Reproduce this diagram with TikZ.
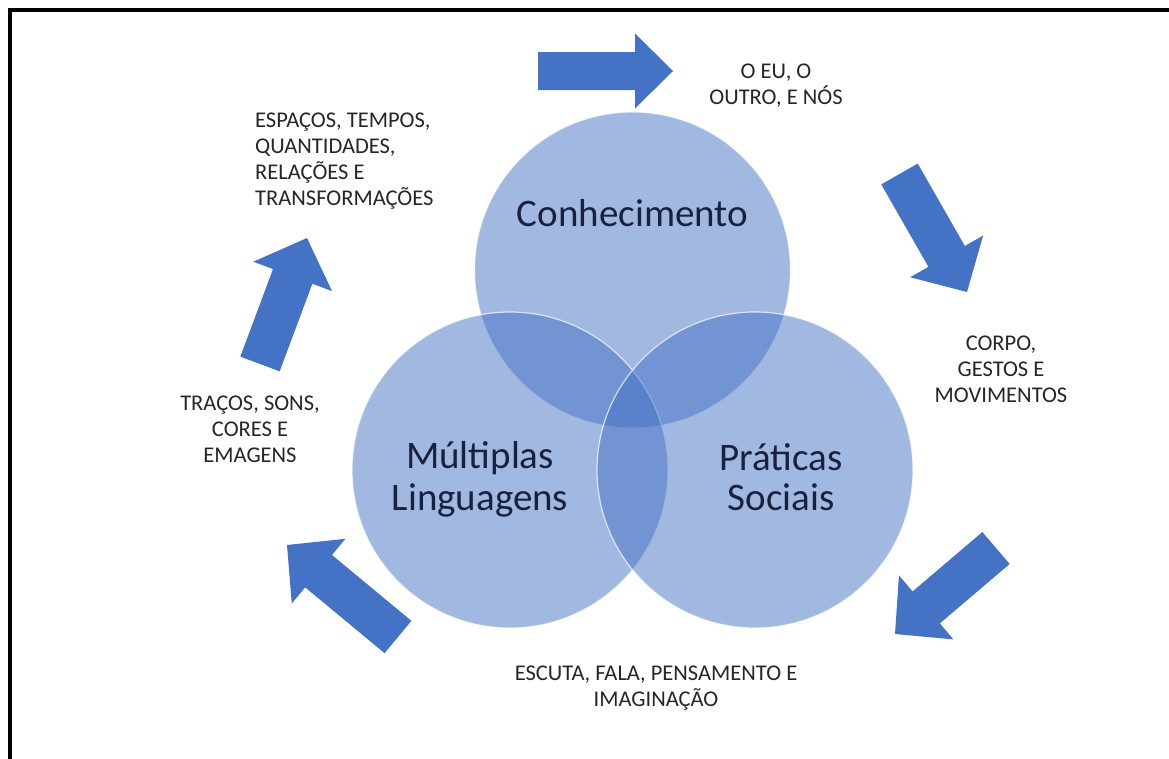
\documentclass[tikz,border=0pt]{standalone}
\usepackage{fontspec}
\setmainfont{Carlito}
\usetikzlibrary{calc}
\definecolor{arrowblue}{RGB}{68,114,196}
\definecolor{circblue}{RGB}{68,114,196}
\definecolor{titletext}{RGB}{24,34,62}
\definecolor{labeltext}{RGB}{38,38,38}
\newcommand\blockarrow[4]{% #1 name, #2 half shaft, #3 half head, #4 head length
  \coordinate (#1-b) at ($(#1-h)!#4!(#1-t)$);
  \fill[arrowblue] ($(#1-t)!#2!90:(#1-h)$) -- ($(#1-b)!#2!90:(#1-h)$) -- ($(#1-b)!#3!90:(#1-h)$) -- (#1-h) -- ($(#1-b)!#3!-90:(#1-h)$) -- ($(#1-b)!#2!-90:(#1-h)$) -- ($(#1-t)!#2!-90:(#1-h)$) -- cycle;
}
\begin{document}
\begin{tikzpicture}[x=1pt,y=-1pt,
  vcirc/.style={circle, inner sep=0pt, outer sep=0pt, minimum size=316pt, fill=circblue, fill opacity=0.5, draw=white, draw opacity=0.7, line width=1.2pt},
  ctitle/.style={text=titletext, align=center, inner sep=0pt, font=\fontsize{39}{43}\selectfont},
  lbl/.style={text=labeltext, inner sep=0pt, font=\fontsize{22.5}{26}\selectfont}]
\fill[white] (0,0) rectangle (1169,758);
\useasboundingbox (0,0) rectangle (1169,758);
\draw[line width=3.5pt] (10,760) -- (10,10) -- (1171,10);

% circles
\node[vcirc] (know) at (632.5,270) {};
\node[vcirc] (lang) at (510,470) {};
\node[vcirc] (soc) at (755,470) {};

\node[ctitle, anchor=base] (tknow) at (632.5,226) {Conhecimento};
\node[ctitle, anchor=base] (tlang1) at (480,468) {Múltiplas};
\node[ctitle, anchor=base] (tlang2) at (480,510) {Linguagens};
\node[ctitle, anchor=base] (tsoc1) at (781,470) {Práticas};
\node[ctitle, anchor=base] (tsoc2) at (781,510) {Sociais};

% labels
\node[lbl, align=center, anchor=north] (eu) at (776,63.5) {O EU, O\\OUTRO, E NÓS};
\node[lbl, align=left, anchor=north west] (esp) at (255,112.5) {ESPAÇOS, TEMPOS,\\QUANTIDADES,\\RELAÇÕES E\\TRANSFORMAÇÕES};
\node[lbl, align=center, anchor=north] (corpo) at (1001,335.5) {CORPO,\\GESTOS E\\MOVIMENTOS};
\node[lbl, align=center, anchor=north] (tracos) at (250,395.5) {TRAÇOS, SONS,\\CORES E\\EMAGENS};
\node[lbl, align=center, anchor=north] (escuta) at (656,665.5) {ESCUTA, FALA, PENSAMENTO E\\IMAGINAÇÃO};

% arrows
\coordinate (a1-t) at (538,71);  \coordinate (a1-h) at (673,71);
\coordinate (a2-t) at (899.5,174); \coordinate (a2-h) at (967,292);
\coordinate (a3-t) at (996,548); \coordinate (a3-h) at (895,634);
\coordinate (a4-t) at (398,637); \coordinate (a4-h) at (287,545);
\coordinate (a5-t) at (260,364); \coordinate (a5-h) at (307,238);
\blockarrow{a1}{19pt}{37.5pt}{38pt}
\blockarrow{a2}{21pt}{42pt}{41pt}
\blockarrow{a3}{21pt}{42pt}{41pt}
\blockarrow{a4}{21pt}{42pt}{41pt}
\blockarrow{a5}{21pt}{42pt}{41pt}
\end{tikzpicture}
\end{document}
